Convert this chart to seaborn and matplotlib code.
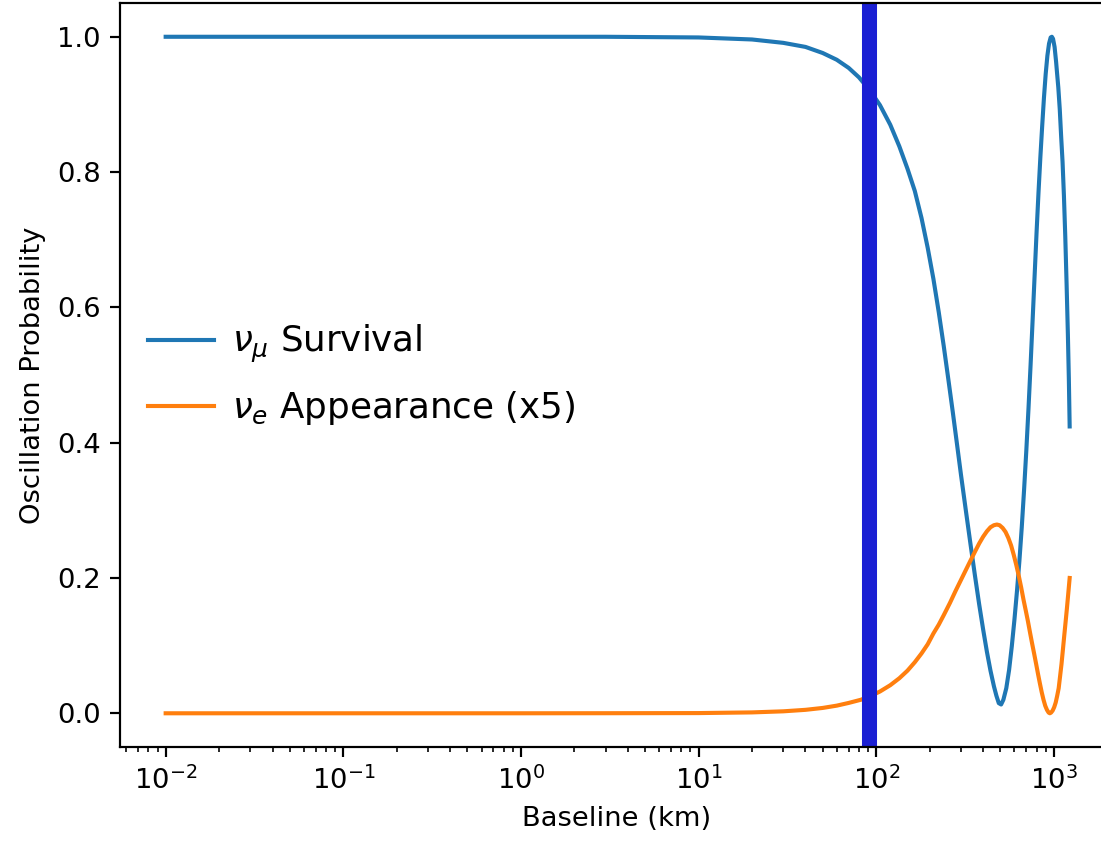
import matplotlib
matplotlib.use("Agg")
import matplotlib.pyplot as plt
import seaborn as sns

# nu_mu survival probability versus baseline (km)
baseline_mu = [0.01, 0.1, 1, 3, 10, 20, 30, 40, 50, 60, 70, 80, 92, 105, 120, 135,
               150, 165, 180, 195, 210, 225, 240, 255, 270, 285, 300, 320, 340,
               360, 380, 400, 420, 440, 460, 475, 490, 505, 520, 540, 560, 580,
               600, 620, 640, 660, 680, 700, 720, 740, 760, 780, 800, 820, 840,
               860, 880, 900, 920, 940, 960, 975, 990, 1010, 1030, 1040, 1060,
               1080, 1100, 1120, 1140, 1160, 1180, 1200, 1215, 1228]
survival = [1.0, 1.0, 1.0, 1.0, 0.999, 0.996, 0.991, 0.985, 0.976, 0.966, 0.954,
            0.940, 0.921, 0.899, 0.870, 0.838, 0.805, 0.772, 0.732, 0.688, 0.642,
            0.593, 0.543, 0.493, 0.445, 0.398, 0.353, 0.299, 0.249, 0.203, 0.161,
            0.124, 0.091, 0.063, 0.040, 0.026, 0.015, 0.013, 0.020, 0.037, 0.064,
            0.099, 0.138, 0.180, 0.225, 0.275, 0.330, 0.388, 0.450, 0.515, 0.582,
            0.648, 0.712, 0.770, 0.822, 0.868, 0.910, 0.945, 0.972, 0.990, 0.999,
            1.0, 0.997, 0.985, 0.963, 0.950, 0.925, 0.893, 0.852, 0.815, 0.765,
            0.705, 0.635, 0.560, 0.495, 0.424]

# nu_e appearance probability (scaled by 5) versus baseline (km)
baseline_e = [0.01, 0.1, 1, 3, 10, 20, 30, 40, 50, 60, 70, 82, 92, 105, 120, 135,
              150, 165, 180, 195, 210, 225, 240, 260, 280, 300, 320, 340, 360, 380,
              400, 420, 440, 460, 478, 495, 515, 535, 555, 575, 595, 615, 635, 655,
              675, 695, 715, 735, 755, 775, 795, 815, 835, 855, 875, 895, 915, 935,
              950, 965, 985, 1005, 1025, 1045, 1065, 1085, 1105, 1125, 1145, 1165,
              1185, 1205, 1228]
appearance_x5 = [0.0, 0.0, 0.0, 0.0001, 0.0003, 0.0013, 0.0029, 0.0051, 0.0079,
                 0.0113, 0.0153, 0.0200, 0.0249, 0.0322, 0.0415, 0.0518, 0.0630,
                 0.0755, 0.0885, 0.1020, 0.1180, 0.1310, 0.1450, 0.1630, 0.1810,
                 0.1970, 0.2120, 0.2260, 0.2390, 0.2510, 0.2610, 0.2690, 0.2750,
                 0.2780, 0.2790, 0.2780, 0.2740, 0.2680, 0.2590, 0.2480, 0.2340,
                 0.2190, 0.2030, 0.1860, 0.1680, 0.1520, 0.1360, 0.1190, 0.1030,
                 0.0880, 0.0730, 0.0580, 0.0440, 0.0310, 0.0200, 0.0110, 0.0050,
                 0.0010, 0.0, 0.0010, 0.0040, 0.0090, 0.0160, 0.0260, 0.0370,
                 0.0550, 0.0730, 0.0940, 0.1150, 0.1350, 0.1550, 0.1760, 0.2000]

# reference baseline marked with a vertical line
marker_km = 91.4

DPI = 197
fig = plt.figure(figsize=(1101 / DPI, 842 / DPI), dpi=DPI)
ax = fig.add_axes([0.109, 0.1127, 0.903, 0.8838])

sns.lineplot(x=baseline_mu, y=survival, ax=ax, color="#1f77b4", lw=1.5,
             estimator=None, sort=False, label=r"$\nu_\mu$ Survival")
sns.lineplot(x=baseline_e, y=appearance_x5, ax=ax, color="#ff7f0e", lw=1.5,
             estimator=None, sort=False, label=r"$\nu_e$ Appearance (x5)")
ax.axvline(marker_km, color="#1a1fd3", lw=5.5)

ax.set_xscale("log")
ax.set_xlim(10 ** -2.257, 10 ** 3.34)
ax.set_ylim(-0.05, 1.05)
ax.set_xlabel("Baseline (km)")
ax.set_ylabel("Oscillation Probability")
ax.legend(loc="center left", frameon=False, fontsize=13, handlelength=1.85,
          handletextpad=0.5, labelspacing=0.68, borderaxespad=0.4)

fig.savefig("out.png", dpi=DPI)
